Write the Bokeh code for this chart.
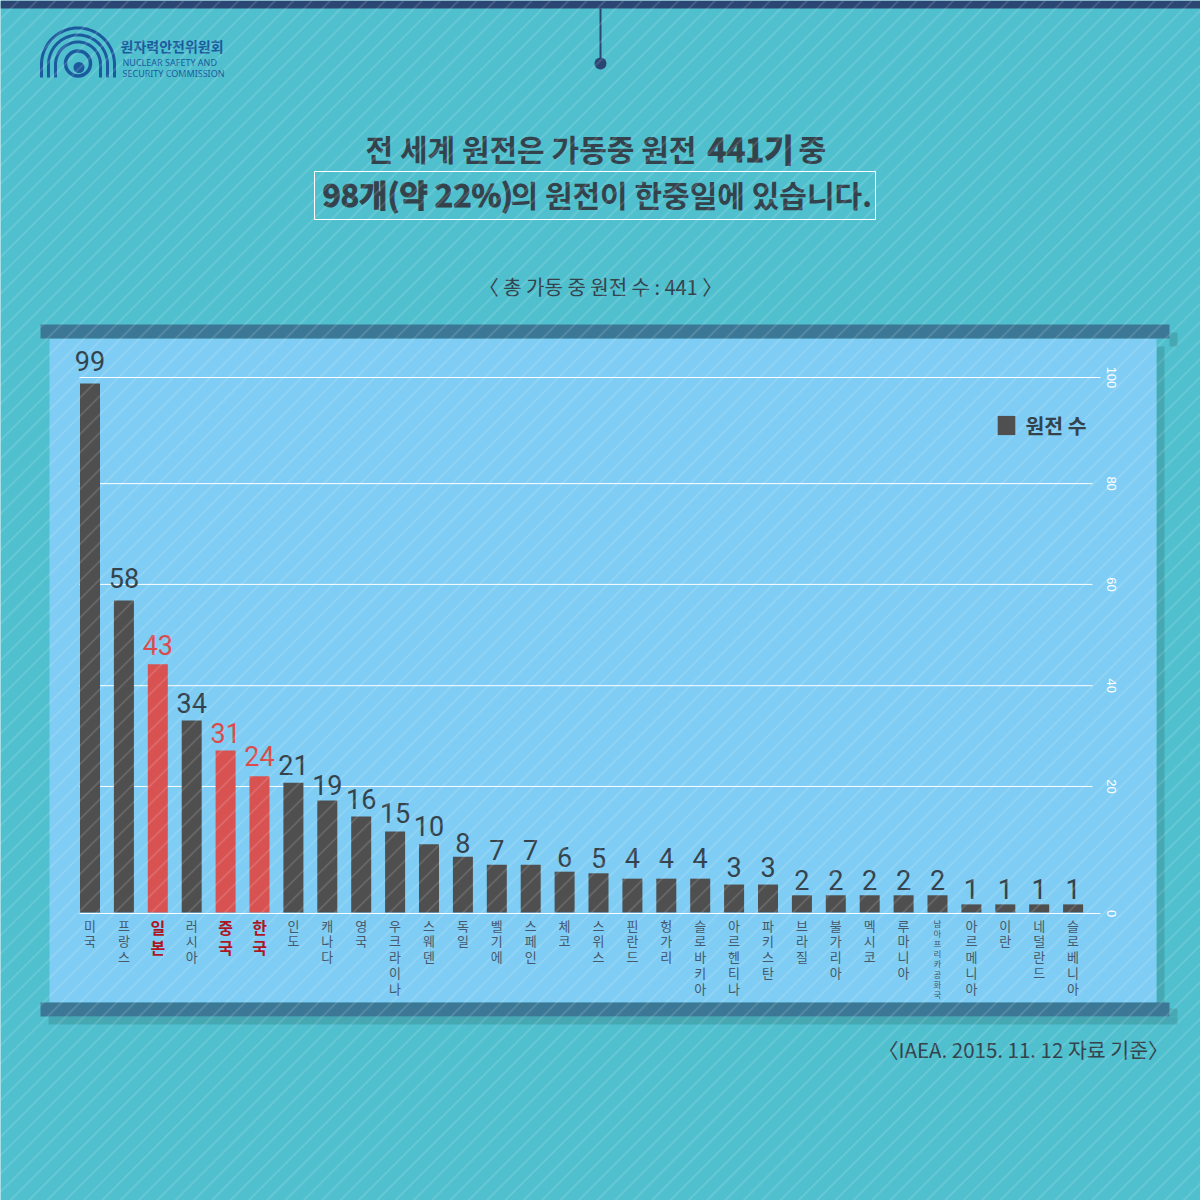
import numpy as np
from bokeh.core.properties import value
from bokeh.embed import file_html
from bokeh.resources import INLINE
from bokeh.plotting import figure
from bokeh.models import (ColumnDataSource, FixedTicker, Legend, LegendItem, LinearAxis, Range1d)

# ---------- data ----------
countries = ["미국", "프랑스", "일본", "러시아", "중국", "한국", "인도", "캐나다", "영국", "우크라이나",
             "스웨덴", "독일", "벨기에", "스페인", "체코", "스위스", "핀란드", "헝가리", "슬로바키아", "아르헨티나",
             "파키스탄", "브라질", "불가리아", "멕시코", "루마니아", "남아프리카공화국", "아르메니아", "이란", "네덜란드", "슬로베니아"]
reactors = [99, 58, 43, 34, 31, 24, 21, 19, 16, 15, 10, 8, 7, 7, 6, 5, 4, 4, 4, 3, 3, 2, 2, 2, 2, 2, 1, 1, 1, 1]
# the infographic's bars are hand-sized: drawn height read against the 0-100 span
drawn_heights = [98.9, 58.4, 46.5, 36.0, 30.4, 25.6, 24.4, 21.1, 18.1, 15.3, 12.9, 10.6, 9.1, 9.1, 7.8, 7.5,
                 6.5, 6.5, 6.5, 5.4, 5.4, 3.4, 3.4, 3.4, 3.4, 3.4, 1.7, 1.7, 1.7, 1.7]
highlighted = ["일본", "중국", "한국"]
small_label = ["남아프리카공화국"]
tick_labels = ["0", "20", "40", "60", "80", "100"]
tick_levels = [0, 23.7, 42.5, 61.4, 80.2, 100]
label_gaps = [11, 11, 8, 7, 7, 9, 7, 4, 6, 7, 7, 3, 4, 4, 4, 4, 10, 10, 10, 7, 7, 4, 4, 4, 4, 4, 4, 4, 4, 4]

# ---------- style / layout ----------
TEAL, SHADOW, PANEL, BAR = "#50C0CE", "#45A8B3", "#7FCDF4", "#3C7896"
NAVY, DARK, RED_BAR, RED_TXT, RED_TICK = "#2C4674", "#34424C", "#D85252", "#DB4B4B", "#AE1524"
GREY, TICK = "#4F4F4F", "#46586A"
KR = "Noto Sans CJK KR"
NARROW = "Roboto"
W = H = 1200
X0, DX = 89.5, 33.9      # pixel of first bar, pixels per bar
Y0, DY = 913.0, 5.36     # pixel of zero, pixels per unit

p = figure(width=W, height=H, output_backend="svg", toolbar_location=None, min_border=0,
           x_range=Range1d(-X0 / DX, (W - X0) / DX), y_range=Range1d((Y0 - H) / DY, Y0 / DY),
           x_axis_type=None, y_axis_type=None, outline_line_color=None,
           background_fill_color=TEAL, border_fill_color=TEAL)
p.styles = {"position": "absolute", "left": "0px", "top": "0px"}
p.grid.visible = False
p.extra_x_ranges["px"] = Range1d(0, W)
p.extra_y_ranges["px"] = Range1d(H, 0)
PX = dict(x_range_name="px", y_range_name="px")


def box(l, t, r, b, color):
    p.quad(left=l, right=r, top=t, bottom=b, fill_color=color, line_color=None, **PX)


def txt(x, y, s, size, color=DARK, style="normal", align="left", font=KR, **kw):
    p.text(x=[x], y=[y], text=[s], text_font=value(font), text_font_size=f"{size}px", text_color=color,
           text_font_style=style, text_align=align, text_baseline="middle", **PX, **kw)


# frame of the chart
box(0, 0, W, 8, NAVY)
box(1156, 346, 1164, 1016, SHADOW)
box(1169, 332, 1177, 346, SHADOW)
box(48, 1016, 1177, 1024, SHADOW)
box(1169, 1008, 1177, 1016, SHADOW)
box(49, 338, 1156, 1002, PANEL)
box(40, 324, 1169, 338, BAR)
box(40, 1002, 1169, 1016, BAR)

# pin
p.segment(x0=[600], x1=[600], y0=[8], y1=[60], line_color=NAVY, line_width=2, **PX)
p.scatter(x=[600], y=[63], size=12, fill_color=NAVY, line_color=None, **PX)

# logo
LOGO = "#1C5A9E"
cx, cy = 77.5, 64
t = np.linspace(np.pi, 2 * np.pi, 60)
for r in (36.5, 29.5, 22.5):
    xs = [cx - r] + list(cx + r * np.cos(t)) + [cx + r]
    ys = [77] + list(cy + r * np.sin(t)) + [77]
    p.line(xs, ys, line_color=LOGO, line_width=3, **PX)
p.scatter(x=[cx], y=[63], size=25, fill_color=None, line_color=LOGO, line_width=3.5, **PX)
p.scatter(x=[cx + 1], y=[67], size=11, fill_color=LOGO, line_color=None, **PX)
txt(120, 45, "원자력안전위원회", 14, LOGO, "bold")
txt(122, 62, "NUCLEAR SAFETY AND", 9, LOGO, font="Noto Sans")
txt(122, 73, "SECURITY COMMISSION", 9, LOGO, font="Noto Sans")

# headline
HEAVY = dict(text_outline_color=DARK)
txt(365, 147, "전 세계 원전은 가동중 원전", 30, DARK, "bold")
txt(707, 147, "441기", 32, DARK, "bold", **HEAVY)
txt(798, 147, "중", 30, DARK, "bold")
p.quad(left=314, right=875, top=171, bottom=219, fill_color=None, line_color="white", line_width=1, **PX)
txt(322, 193, "98개(약 22%)", 31, DARK, "bold", **HEAVY)
txt(510, 193, "의 원전이 한중일에 있습니다.", 30, DARK, "bold")
txt(600, 286, "〈 총 가동 중 원전 수 : 441 〉", 20, DARK, align="center")
txt(1168, 1048, "〈IAEA. 2015. 11. 12 자료 기준〉", 20.5, DARK, align="right")

# grid and baseline
grid_x1 = (1092 - X0) / DX
axis_x0, axis_x1 = (79 - X0) / DX, (1100 - X0) / DX
p.segment(x0=axis_x0, x1=grid_x1, y0=tick_levels[1:5], y1=tick_levels[1:5], line_color="white", line_width=1)
p.segment(x0=axis_x0, x1=axis_x1, y0=[0, 100], y1=[0, 100], line_color="white", line_width=1)

# bars
idx = list(range(len(countries)))
is_red = [c in highlighted for c in countries]
src = ColumnDataSource(dict(x=idx, h=drawn_heights, n=[str(v) for v in reactors], gap=[-g - 11 for g in label_gaps]))


def subset(flags):
    return ColumnDataSource({k: [v for v, f in zip(col, flags) if f] for k, col in src.data.items()})


plain = subset([not r for r in is_red])
red = subset(is_red)
bars = p.vbar(x="x", top="h", bottom=0.2, width=20 / DX, source=plain, fill_color=GREY, line_color=None)
p.vbar(x="x", top="h", bottom=0.2, width=20 / DX, source=red, fill_color=RED_BAR, line_color=None)
NUM = dict(x="x", y="h", text="n", y_offset="gap", text_align="center", text_baseline="middle",
           text_font=value(NARROW), text_font_size="27px")
p.text(source=plain, text_color=DARK, **NUM)
p.text(source=red, text_color=RED_TXT, **NUM)


# category labels: real axes, one per text style
def cat_axis(names, size, color, style="normal", line_height=0.83, standoff=-4):
    ticks = [countries.index(n) for n in names]
    ax = LinearAxis(fixed_location=0, ticker=FixedTicker(ticks=ticks),
                    major_label_overrides={i: "\n".join(countries[i]) for i in ticks},
                    axis_line_color=None, major_tick_line_color=None, minor_tick_line_color=None,
                    major_label_text_font=KR, major_label_text_font_size=f"{size}px",
                    major_label_text_color=color, major_label_text_font_style=style,
                    major_label_text_line_height=line_height,
                    major_label_standoff=standoff, major_label_orientation="horizontal")
    p.add_layout(ax, "below")


cat_axis([c for c in countries if c not in highlighted + small_label], 13, TICK)
cat_axis(highlighted, 16, RED_TICK, "bold", 0.86, -5)
cat_axis(small_label, 8.5, TICK, line_height=0.85, standoff=-3)

# value axis on the right, labels turned
yax = LinearAxis(fixed_location=(1100 - X0) / DX, ticker=FixedTicker(ticks=tick_levels),
                 major_label_overrides=dict(zip(tick_levels, tick_labels)),
                 axis_line_color=None, major_tick_line_color=None, minor_tick_line_color=None,
                 major_label_text_font="Liberation Sans", major_label_text_font_size="13px",
                 major_label_text_color="white", major_label_standoff=0, major_label_orientation="vertical")
p.add_layout(yax, "right")

# legend
leg = Legend(items=[LegendItem(label="원전 수", renderers=[bars])], location=(994.5, H - 439.5),
             orientation="vertical", glyph_width=22, glyph_height=24, label_standoff=9, padding=0, margin=0,
             spacing=0, background_fill_alpha=0, border_line_color=None, label_text_font=KR,
             label_text_font_size="20.5px", label_text_font_style="bold", label_text_color=DARK, label_height=24)
p.add_layout(leg, "center")

# diagonal stripes over everything (background texture, not data)
step = 18.33
offs = np.arange(0, W + H + step, step)
p.multi_line(xs=[[o, o - H] for o in offs], ys=[[0, H] for o in offs], line_color="white", line_alpha=0.13,
             line_width=2, **PX)

open("out.html", "w").write(file_html(p, INLINE))
